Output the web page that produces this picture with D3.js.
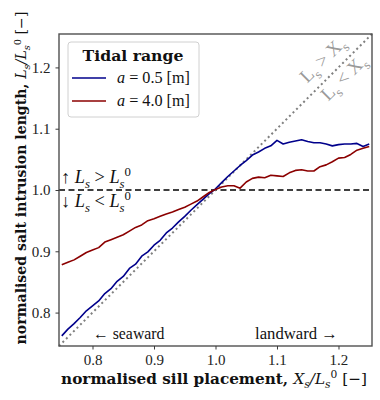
<!DOCTYPE html>
<html><head><meta charset="utf-8">
<script src="https://cdn.jsdelivr.net/npm/d3@7"></script>
<style>body{margin:0;background:#fff}svg{display:block}</style>
</head><body><svg id="c" width="380" height="400"></svg>
<script>
const xVals = [0.75,0.76,0.77,0.78,0.79,0.80,0.81,0.82,0.83,0.84,0.85,0.86,0.87,0.88,0.89,0.90,0.91,0.92,0.93,0.94,0.95,0.96,0.97,0.98,0.99,1.00,1.01,1.02,1.03,1.04,1.05,1.06,1.07,1.08,1.09,1.10,1.11,1.12,1.13,1.14,1.15,1.16,1.17,1.18,1.19,1.20,1.21,1.22,1.23,1.24,1.25];
const blueVals = [0.762,0.773,0.782,0.792,0.803,0.811,0.819,0.831,0.839,0.851,0.859,0.872,0.879,0.892,0.899,0.910,0.918,0.930,0.938,0.948,0.957,0.967,0.976,0.985,0.994,1.002,1.012,1.022,1.031,1.040,1.048,1.057,1.062,1.068,1.072,1.081,1.075,1.078,1.080,1.082,1.079,1.077,1.077,1.075,1.072,1.074,1.075,1.075,1.076,1.071,1.075];
const redVals = [0.878,0.882,0.886,0.892,0.898,0.902,0.906,0.915,0.919,0.923,0.927,0.933,0.939,0.943,0.950,0.953,0.957,0.961,0.964,0.968,0.972,0.977,0.982,0.989,0.996,1.001,1.005,1.007,1.007,1.003,1.013,1.019,1.021,1.020,1.024,1.023,1.022,1.028,1.032,1.033,1.031,1.031,1.038,1.041,1.046,1.052,1.053,1.058,1.065,1.068,1.071];
const xTicks = [0.8,0.9,1.0,1.1,1.2];
const yTicks = [0.8,0.9,1.0,1.1,1.2];
const seriesNames = ["0.5","4.0"];
const seriesColors = ["#00008b","#8b0000"];

const REG = "'Liberation Serif',serif";
const BOLD = "'DejaVu Serif',serif";
const svg = d3.select("#c").attr("font-family", REG);
const L = 59, R = 372, T = 34, B = 346;
const x = d3.scaleLinear().domain([0.7455,1.2545]).range([L,R]);
const y = d3.scaleLinear().domain([0.7455,1.2545]).range([B,T]);

function rich(sel, parts, fs){
  let off = 0;
  parts.forEach(p => {
    const t = p[0], st = p[1] || [];
    let target = 0, size = fs;
    if (st.includes('sub')) { target = 0.28*fs; size = 0.7*fs; }
    if (st.includes('sup')) { target = -0.38*fs; size = 0.7*fs; }
    const ts = sel.append('tspan').text(t).attr('font-size', size).attr('dy', target-off);
    off = target;
    if (st.includes('i')) ts.attr('font-style','italic');
    if (st.includes('n')) ts.attr('font-weight','normal');
  });
}
// build a text, then rescale its font size so that it spans the target width
function fitted(attrs, parts, fs, target){
  function build(size){
    const t = svg.append("text");
    Object.entries(attrs).forEach(([k,v])=>t.attr(k,v));
    t.attr("font-size", size);
    rich(t, parts, size);
    return t;
  }
  let t = build(fs);
  const w = t.node().getBBox().width;
  if (w > 0 && target) { t.remove(); t = build(fs*target/w); }
  return t;
}

// reference lines
svg.append("line").attr("x1",x(0.7455)).attr("x2",x(1.2545)).attr("y1",y(1)).attr("y2",y(1))
  .attr("stroke","#000").attr("stroke-width",1.7).attr("stroke-dasharray","6,3.5");
svg.append("line").attr("x1",x(0.7455)).attr("y1",y(0.7455)).attr("x2",x(1.2545)).attr("y2",y(1.2545))
  .attr("stroke","#808080").attr("stroke-width",2).attr("stroke-dasharray","2,3");

// series
const line = d3.line().x((d,i)=>x(xVals[i])).y(d=>y(d));
[blueVals, redVals].forEach((vals,k)=>{
  svg.append("path").datum(vals).attr("d",line).attr("fill","none")
    .attr("stroke",seriesColors[k]).attr("stroke-width",1.6).attr("stroke-linejoin","round");
});

// frame
svg.append("rect").attr("x",L).attr("y",T).attr("width",R-L).attr("height",B-T)
  .attr("fill","none").attr("stroke","#505050").attr("stroke-width",1.4);

// axes ticks
const gx = svg.append("g").attr("transform",`translate(0,${B})`)
  .call(d3.axisBottom(x).tickValues(xTicks).tickFormat(d3.format(".1f")).tickSize(3.5).tickPadding(5));
const gy = svg.append("g").attr("transform",`translate(${L},0)`)
  .call(d3.axisLeft(y).tickValues(yTicks).tickFormat(d3.format(".1f")).tickSize(3.5).tickPadding(5));
[gx,gy].forEach(g=>{
  g.select(".domain").remove();
  g.selectAll("line").attr("stroke","#3a3a3a").attr("stroke-width",1);
  g.selectAll("text").attr("font-family",REG).attr("font-size",15).attr("fill","#222");
});

// axis labels
fitted({x:214, y:384, "text-anchor":"middle", "font-family":BOLD, "font-weight":"bold", fill:"#111"},
  [["normalised sill placement, "],["X",['i','n']],["s",['sub','i','n']],["/L",['i','n']],["s",['sub','i','n']],["0",['sup','n']],[" [−]",['n']]], 15, 306);
fitted({transform:"translate(26,178) rotate(-90)", "text-anchor":"middle", "font-family":BOLD, "font-weight":"bold", fill:"#111"},
  [["normalised salt intrusion length, "],["L",['i','n']],["s",['sub','i','n']],["/L",['i','n']],["s",['sub','i','n']],["0",['sup','n']],[" [−]",['n']]], 15, 333);

// annotations
fitted({x:61, y:183, fill:"#111"}, [["↑ "],["L",['i']],["s",['sub','i']],[" > "],["L",['i']],["s",['sub','i']],["0",['sup']]], 15, 70);
fitted({x:61, y:207, fill:"#111"}, [["↓ "],["L",['i']],["s",['sub','i']],[" < "],["L",['i']],["s",['sub','i']],["0",['sup']]], 15, 70);
fitted({x:93, y:339, fill:"#111"}, [["← seaward"]], 15, 72);
fitted({x:338, y:339, "text-anchor":"end", fill:"#111"}, [["landward →"]], 15, 83);

fitted({transform:"translate(327,64) rotate(-45)", "text-anchor":"middle", fill:"#9a9a9a"},
  [["L"],["s",['sub']],[" > X"],["s",['sub']]], 14, 56);
fitted({transform:"translate(348,82) rotate(-45)", "text-anchor":"middle", fill:"#9a9a9a"},
  [["L"],["s",['sub']],[" < X"],["s",['sub']]], 14, 56);

// legend
svg.append("rect").attr("x",68).attr("y",42).attr("width",131).attr("height",75).attr("rx",3)
  .attr("fill","#fff").attr("fill-opacity",0.85).attr("stroke","#d0d0d0").attr("stroke-width",1);
fitted({x:133, y:61, "text-anchor":"middle", "font-family":BOLD, "font-weight":"bold", fill:"#111"}, [["Tidal range"]], 15, 101);
seriesNames.forEach((nm,k)=>{
  const yy = 78 + k*23;
  svg.append("line").attr("x1",72).attr("x2",106).attr("y1",yy).attr("y2",yy)
    .attr("stroke",seriesColors[k]).attr("stroke-width",1.6);
  fitted({x:117, y:yy+5, fill:"#111"}, [["a",['i']],[" = "+nm+" [m]"]], 15, 73);
});
</script></body></html>
